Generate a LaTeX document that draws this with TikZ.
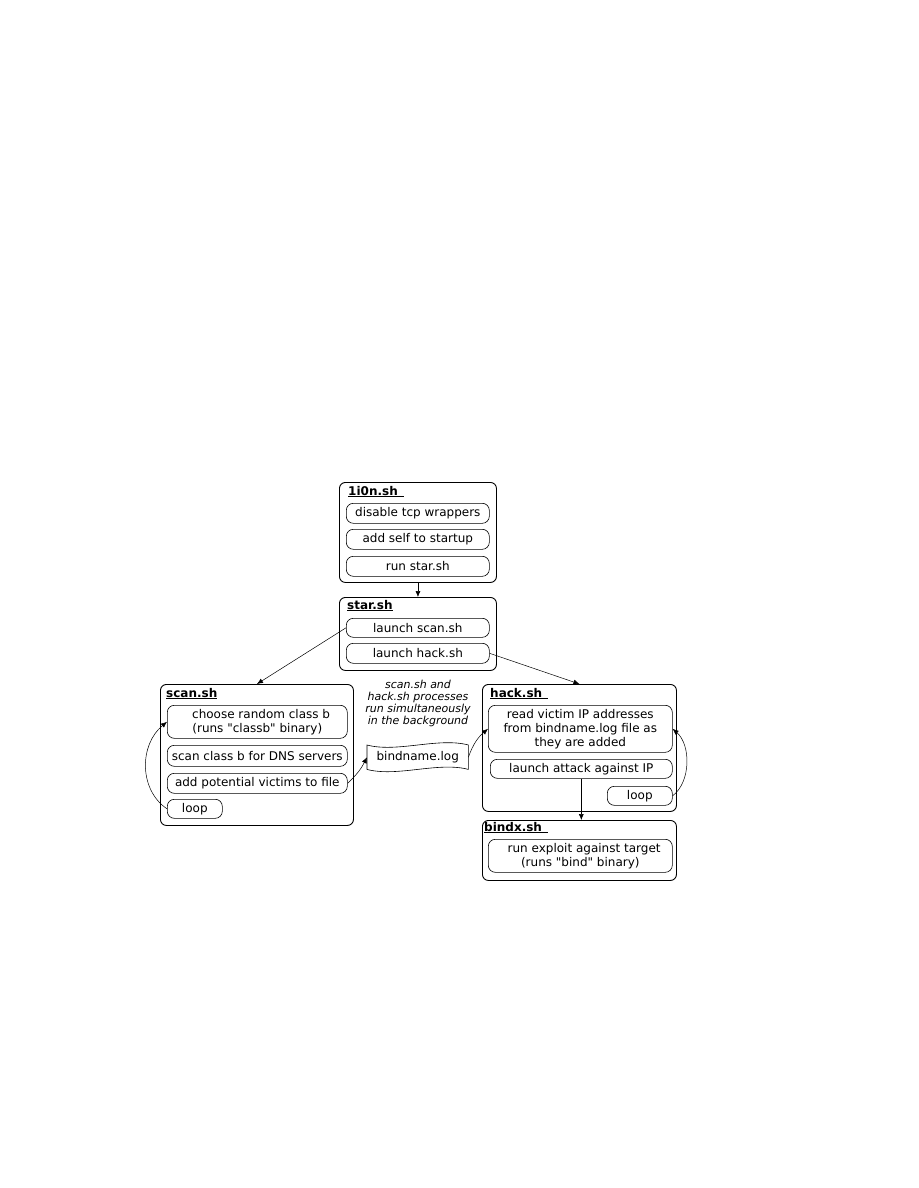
\documentclass[tikz,border=0pt]{standalone}
\usepackage{fontspec}
\setmainfont{DejaVu Sans}[Ligatures=TeXOff]
\usetikzlibrary{arrows.meta,positioning}

\begin{document}
\begin{tikzpicture}[x=1pt, y=-1pt,
		script/.style={draw, rounded corners=6pt, line width=0.9pt, anchor=north west, inner sep=0pt},
		task/.style={draw, rounded corners=7pt, line width=0.6pt, anchor=north west, inner sep=0pt, align=center, font=\fontsize{12}{14}\selectfont},
		title/.style={anchor=base west, inner sep=0pt, font=\fontsize{12}{14}\selectfont\bfseries},
		note/.style={align=center, inner sep=0pt, font=\fontsize{11}{12}\selectfont\itshape},
		flow/.style={-{Latex[length=6pt,width=5pt]}, line width=0.5pt}]
		\useasboundingbox (0,0) rectangle (918,1188);
		% 1i0n.sh
		\node[script, minimum width=157, minimum height=100] (lion) at (339,482) {};
		\node[title] (liont) at (348,495) {\underline{1i0n.sh\ \,}};
		\node[task, minimum width=143, minimum height=20] (tcp) at (346,503) {disable tcp wrappers};
		\node[task, minimum width=143, minimum height=20] (self) at (346,529) {add self to startup};
		\node[task, minimum width=143, minimum height=20] (run) at (346,556) {run star.sh};
		% star.sh
		\node[script, minimum width=157, minimum height=73] (star) at (339,597) {};
		\node[title] (start) at (347,609) {\underline{star.sh}};
		\node[task, minimum width=143, minimum height=19] (lscan) at (346,618) {launch scan.sh};
		\node[task, minimum width=143, minimum height=20] (lhack) at (346,643) {launch hack.sh};
		% scan.sh
		\node[script, minimum width=193, minimum height=141] (scan) at (160,684) {};
		\node[title] (scant) at (166,697) {\underline{scan.sh}};
		\node[task, minimum width=180, minimum height=33] (choose) at (167,705) {\ \ choose random class b\\(runs "classb" binary)};
		\node[task, minimum width=180, minimum height=21] (dns) at (167,745) {scan class b for DNS servers};
		\node[task, minimum width=180, minimum height=20] (add) at (167,773) {add potential victims to file};
		\node[task, minimum width=55, minimum height=19] (sloop) at (167,799) {loop};
		% hack.sh
		\node[script, minimum width=194, minimum height=127] (hack) at (482,684) {};
		\node[title] (hackt) at (490,697) {\underline{hack.sh\ \,}};
		\node[task, minimum width=184, minimum height=47] (read) at (488,705) {read victim IP addresses\\from bindname.log file as\\they are added};
		\node[task, minimum width=182, minimum height=19] (attack) at (490,759) {launch attack against IP};
		\node[task, minimum width=65, minimum height=19] (hloop) at (607,786) {loop};
		% bindx.sh
		\node[script, minimum width=194, minimum height=60] (bindx) at (482,820) {};
		\node[title] (bindxt) at (484,831) {\underline{bindx.sh\ \,}};
		\node[task, minimum width=184, minimum height=33] (exploit) at (488,839) {\ \ run exploit against target\\(runs "bind" binary)};
		% log file and note
		\node[note] (note) at (418,703) {scan.sh and\\hack.sh processes\\run simultaneously\\in the background};
		\node[anchor=north west, inner sep=0pt, minimum width=101, minimum height=24, font=\fontsize{12}{14}\selectfont] (log) at (367,745) {bindname.log};
		\draw[line width=0.6pt] (log.north west) .. controls +(30,8) and +(-30,-8) .. (log.north east) -- (log.south east)
			.. controls +(-30,-8) and +(30,8) .. (log.south west) -- cycle;
		% connectors
		\draw[flow] (lion.south) -- (star.north);
		\draw[flow] (lscan.west) -- (scan.north);
		\draw[flow] (lhack.east) -- (hack.north);
		\draw[flow] (attack.south) -- (attack.south |- bindx.north);
		\draw[flow] (add.east) to[bend right=10] (log.west);
		\draw[flow] (log.east) to[bend left=15] (read.west);
		\draw[flow] (sloop.west) .. controls (139,790) and (139,745) .. (choose.west);
		\draw[flow] (hloop.east) .. controls (691,782) and (691,745) .. (read.east);
	\end{tikzpicture}
\end{document}
